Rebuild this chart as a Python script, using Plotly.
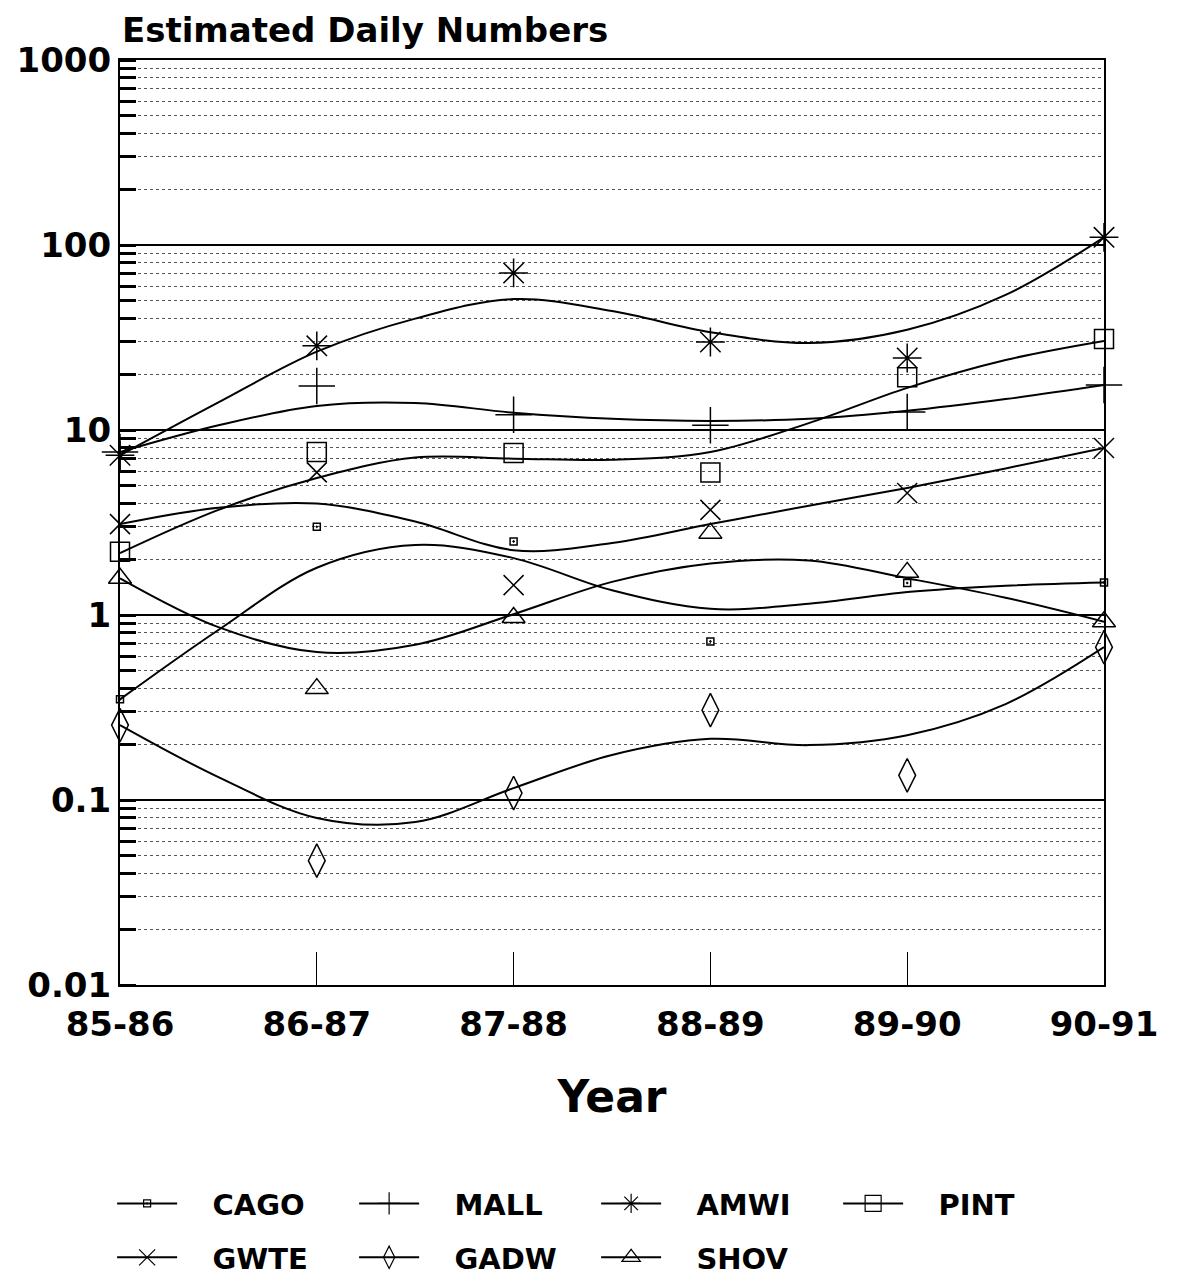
import plotly.graph_objects as go

# ---- data ----
years = ["85-86", "86-87", "87-88", "88-89", "89-90", "90-91"]
year_pos = [0, 1, 2, 3, 4, 5]
# positions (in year steps) at which the fitted curves were read
fit_pos = [0, 0.5, 1, 1.5, 2, 2.5, 3, 3.5, 4, 4.5, 5]

cago = [0.35, 3.0, 2.5, 0.72, 1.49, 1.5]
cago_fit = [0.35, 0.83, 1.8, 2.39, 2.03, 1.36, 1.08, 1.15, 1.33, 1.44, 1.5]

mall = [7.6, 17.3, 12.1, 10.6, 12.5, 17.5]
mall_fit = [7.6, 10.6, 13.5, 14.0, 12.4, 11.5, 11.2, 11.5, 12.7, 14.7, 17.5]

amwi = [7.3, 28.5, 70.6, 29.9, 24.5, 110]
amwi_fit = [7.3, 14.1, 26.5, 40, 51, 44, 33.8, 29.5, 34.8, 53.7, 110]

pint = [2.2, 7.6, 7.5, 5.9, 19.3, 31]
pint_fit = [2.16, 3.7, 5.5, 7.1, 7.0, 6.9, 7.6, 10.9, 16.9, 23.9, 30.3]

gwte = [3.1, 5.9, 1.45, 3.7, 4.57, 8.0]
gwte_fit = [3.1, 3.8, 4.0, 3.2, 2.24, 2.45, 3.1, 3.9, 4.86, 6.2, 8.0]

gadw = [0.254, 0.047, 0.109, 0.306, 0.136, 0.67]
gadw_fit = [0.254, 0.133, 0.08, 0.076, 0.116, 0.175, 0.214, 0.198, 0.224, 0.33, 0.67]

shov = [1.58, 0.40, 0.97, 2.77, 1.7, 0.92]
shov_fit = [1.58, 0.86, 0.63, 0.69, 1.01, 1.51, 1.9, 1.97, 1.58, 1.24, 0.92]

y_ticks = [0.01, 0.1, 1, 10, 100, 1000]
y_tick_text = ["0.01", "0.1", "1", "10", "100", "1000"]

series = [
    ("CAGO", cago, cago_fit, "square-open-dot", 7, "legend"),
    ("MALL", mall, mall_fit, "cross-thin-open", 26, "legend"),
    ("AMWI", amwi, amwi_fit, "asterisk-open", 24, "legend"),
    ("PINT", pint, pint_fit, "square-open", 19, "legend"),
    ("GWTE", gwte, gwte_fit, "x-thin-open", 20, "legend2"),
    ("GADW", gadw, gadw_fit, "diamond-tall-open", 24, "legend2"),
    ("SHOV", shov, shov_fit, "triangle-up-open", 20, "legend2"),
]

FONT = "DejaVu Sans"
GAP = "\u00a0\u00a0\u00a0"
fig = go.Figure()

for name, vals, fit, sym, size, leg in series:
    fig.add_trace(go.Scatter(
        x=fit_pos, y=fit, mode="lines", line=dict(color="black", width=2, shape="spline", smoothing=1.0),
        showlegend=False, hoverinfo="skip", legendgroup=name))
    fig.add_trace(go.Scatter(
        x=year_pos, y=vals, mode="markers", name=name, legendgroup=name, showlegend=False,
        marker=dict(symbol=sym, size=size, color="black", line=dict(color="black", width=1.5)),
        cliponaxis=False))
    # legend entry: line + marker symbol
    fig.add_trace(go.Scatter(
        x=[None], y=[None], mode="lines+markers", name=GAP + name, legendgroup=name, legend=leg,
        line=dict(color="black", width=2),
        marker=dict(symbol=sym, size=min(size, 16), color="black", line=dict(color="black", width=1.2))))

legend_common = dict(orientation="h", x=-0.008, xanchor="left", yanchor="top",
                     font=dict(family=FONT, size=29, weight="bold"), itemwidth=60,
                     entrywidth=167, entrywidthmode="pixels", bgcolor="rgba(0,0,0,0)")

# page body has an 8px margin, so the figure is drawn 8px smaller and offset
fig.update_layout(
    width=1163, height=1270,
    margin=dict(l=112, r=67, t=52, b=293, autoexpand=False),
    paper_bgcolor="white", plot_bgcolor="white",
    font=dict(family=FONT, color="black", size=30, weight="bold"),
    xaxis=dict(
        range=[0, 5], tickmode="array", tickvals=year_pos, ticktext=years, automargin=False,
        ticks="inside", ticklen=33, tickwidth=1, tickcolor="black", ticklabelstandoff=8,
        showgrid=False, zeroline=False, showline=True, linecolor="black", linewidth=2, mirror=True,
        tickfont=dict(family=FONT, size=34, weight="bold"),
        title=dict(text="Year", font=dict(family=FONT, size=44, weight="bold"), standoff=38),
    ),
    yaxis=dict(
        type="log", range=[-2, 3], tickmode="array", tickvals=y_ticks, ticktext=y_tick_text,
        automargin=False,
        ticks="", showgrid=True, gridcolor="black", gridwidth=2,
        zeroline=False, showline=True, linecolor="black", linewidth=2, mirror=True,
        tickfont=dict(family=FONT, size=34, weight="bold"),
        minor=dict(dtick="D1", ticks="inside", ticklen=16, tickwidth=3, tickcolor="black",
                   showgrid=True, gridcolor="#555555", gridwidth=1, griddash="dot"),
    ),
    legend=dict(y=-0.2087, **legend_common),
    legend2=dict(y=-0.267, **legend_common),
    annotations=[dict(text="Estimated Daily Numbers", xref="paper", yref="paper", x=0.0, y=1.0,
                      xanchor="left", yanchor="bottom", yshift=8, showarrow=False,
                      font=dict(family=FONT, size=34, weight="bold"))],
)

fig.write_html("out.html")
